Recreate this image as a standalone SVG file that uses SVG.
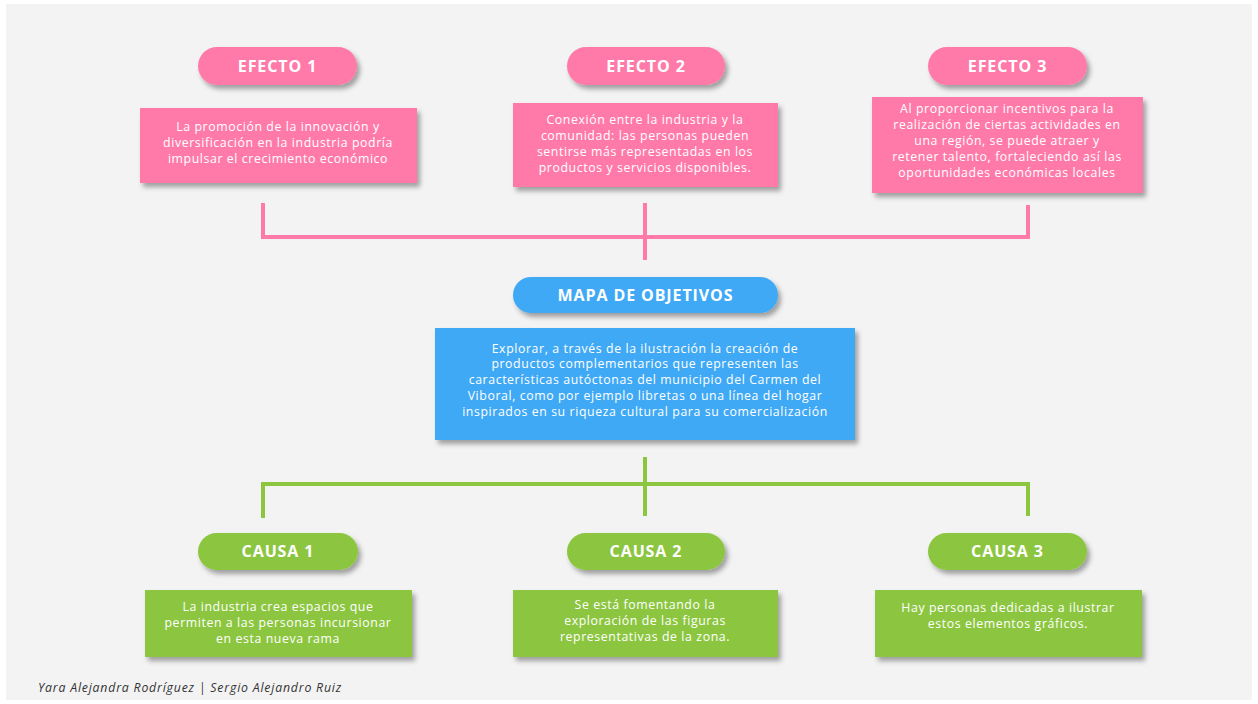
<svg xmlns="http://www.w3.org/2000/svg" width="1258" height="704" viewBox="0 0 1258 704">
<defs>
<filter id="sh" x="-10%" y="-20%" width="130%" height="160%">
<feDropShadow dx="3" dy="4" stdDeviation="2.5" flood-color="#000" flood-opacity="0.35"/>
</filter>
<style>
.pink{fill:#ff7aa8}
.blue{fill:#3fa9f5}
.green{fill:#8cc63f}
.title{font-family:"Open Sans","Liberation Sans",sans-serif;font-weight:700;font-size:16px;letter-spacing:0.9px;fill:#ffffff;text-anchor:middle}
.body{font-family:"Open Sans","Liberation Sans",sans-serif;font-size:12.3px;letter-spacing:0.6px;fill:#ffffff;text-anchor:middle}
.lp{fill:none;stroke:#ff7aa8;stroke-width:4}
.lg{fill:none;stroke:#8cc63f;stroke-width:4}
.foot{font-family:"Open Sans","Liberation Sans",sans-serif;font-style:italic;font-size:12.3px;letter-spacing:0.8px;fill:#333333}
</style>
</defs>
<rect x="0" y="0" width="1258" height="704" fill="#ffffff"/>
<rect x="6" y="4" width="1246" height="696" fill="#f3f3f3"/>

<g id="connectors">
<path class="lp" d="M263 203 V237 H1028 V205"/>
<path class="lp" d="M645 203 V260"/>
<path class="lg" d="M263 518 V484 H1028 V516"/>
<path class="lg" d="M645 457 V516"/>
</g>

<g id="efecto1">
<rect class="pink" x="198" y="47" width="159" height="38" rx="19" filter="url(#sh)"/>
<text class="title" x="277.5" y="71.5">EFECTO 1</text>
<rect class="pink" x="140" y="108" width="277" height="75" filter="url(#sh)"/>
<text class="body"><tspan x="278" y="131">La promoción de la innovación y</tspan><tspan x="278" y="147">diversificación en la industria podría</tspan><tspan x="278" y="163">impulsar el crecimiento económico</tspan></text>
</g>

<g id="efecto2">
<rect class="pink" x="567" y="47" width="158" height="38" rx="19" filter="url(#sh)"/>
<text class="title" x="646" y="71.5">EFECTO 2</text>
<rect class="pink" x="513" y="103" width="265" height="84" filter="url(#sh)"/>
<text class="body"><tspan x="645" y="124">Conexión entre la industria y la</tspan><tspan x="645" y="140">comunidad: las personas pueden</tspan><tspan x="645" y="156">sentirse más representadas en los</tspan><tspan x="645" y="172">productos y servicios disponibles.</tspan></text>
</g>

<g id="efecto3">
<rect class="pink" x="928" y="47" width="159" height="38" rx="19" filter="url(#sh)"/>
<text class="title" x="1007.5" y="71.5">EFECTO 3</text>
<rect class="pink" x="872" y="97" width="271" height="96" filter="url(#sh)"/>
<text class="body"><tspan x="1007" y="113">Al proporcionar incentivos para la</tspan><tspan x="1007" y="129">realización de ciertas actividades en</tspan><tspan x="1007" y="145">una región, se puede atraer y</tspan><tspan x="1007" y="161">retener talento, fortaleciendo así las</tspan><tspan x="1007" y="177">oportunidades económicas locales</tspan></text>
</g>

<g id="mapa">
<rect class="blue" x="513" y="277" width="265" height="36" rx="18" filter="url(#sh)"/>
<text class="title" x="645.5" y="300.5">MAPA DE OBJETIVOS</text>
<rect class="blue" x="435" y="328" width="420" height="112" filter="url(#sh)"/>
<text class="body"><tspan x="645" y="353">Explorar, a través de la ilustración la creación de</tspan><tspan x="645" y="368">productos complementarios que representen las</tspan><tspan x="645" y="384">características autóctonas del municipio del Carmen del</tspan><tspan x="645" y="400">Viboral, como por ejemplo libretas o una línea del hogar</tspan><tspan x="645" y="416">inspirados en su riqueza cultural para su comercialización</tspan></text>
</g>

<g id="causa1">
<rect class="green" x="198" y="533" width="160" height="37" rx="18.5" filter="url(#sh)"/>
<text class="title" x="278" y="556.5">CAUSA 1</text>
<rect class="green" x="145" y="590" width="267" height="67" filter="url(#sh)"/>
<text class="body"><tspan x="278" y="611">La industria crea espacios que</tspan><tspan x="278" y="627">permiten a las personas incursionar</tspan><tspan x="278" y="643">en esta nueva rama</tspan></text>
</g>

<g id="causa2">
<rect class="green" x="567" y="533" width="158" height="37" rx="18.5" filter="url(#sh)"/>
<text class="title" x="646" y="556.5">CAUSA 2</text>
<rect class="green" x="513" y="590" width="265" height="67" filter="url(#sh)"/>
<text class="body"><tspan x="645" y="609">Se está fomentando la</tspan><tspan x="645" y="625">exploración de las figuras</tspan><tspan x="645" y="641">representativas de la zona.</tspan></text>
</g>

<g id="causa3">
<rect class="green" x="928" y="533" width="159" height="37" rx="18.5" filter="url(#sh)"/>
<text class="title" x="1007.5" y="556.5">CAUSA 3</text>
<rect class="green" x="875" y="590" width="267" height="67" filter="url(#sh)"/>
<text class="body"><tspan x="1008" y="612">Hay personas dedicadas a ilustrar</tspan><tspan x="1008" y="628">estos elementos gráficos.</tspan></text>
</g>

<text class="foot" x="38" y="692">Yara Alejandra Rodríguez | Sergio Alejandro Ruiz</text>
</svg>
